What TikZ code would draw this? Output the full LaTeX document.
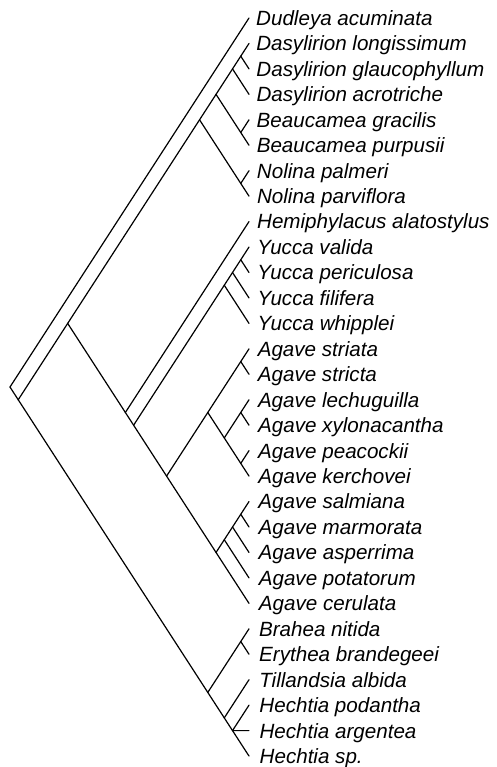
\documentclass[tikz,border=0pt]{standalone}
\usepackage{fontspec}
\setmainfont{Liberation Sans}
\newcommand\cladenode[3]{\coordinate (#1) at ({249-(#3-#2)*8.242},{18+12.725*(#2+#3)});}
\begin{document}
\begin{tikzpicture}[x=1pt,y=-1pt,
  branch/.style={line width=1.2pt,line cap=round},
  taxon/.style={anchor=base west,inner sep=0pt,font=\fontsize{20.6}{24}\selectfont\itshape}]
\useasboundingbox (0,0) rectangle (496,767);
% tips and labels
\foreach \i/\name in {0/Dudleya acuminata,1/Dasylirion longissimum,2/Dasylirion glaucophyllum,3/Dasylirion acrotriche,4/Beaucamea gracilis,5/Beaucamea purpusii,6/Nolina palmeri,7/Nolina parviflora,8/Hemiphylacus alatostylus,9/Yucca valida,10/Yucca periculosa,11/Yucca filifera,12/Yucca whipplei,13/Agave striata,14/Agave stricta,15/Agave lechuguilla,16/Agave xylonacantha,17/Agave peacockii,18/Agave kerchovei,19/Agave salmiana,20/Agave marmorata,21/Agave asperrima,22/Agave potatorum,23/Agave cerulata,24/Brahea nitida,25/Erythea brandegeei,26/Tillandsia albida,27/Hechtia podantha,28/Hechtia argentea,29/Hechtia sp.}{
  \coordinate (t\i) at (249,{18+25.45*\i});
  \node[taxon] (L\i) at ({256+0.12*\i},{25.4+25.45*\i}) {\name};
}
% internal nodes
\cladenode{root}{0}{29}
\cladenode{A}{1}{29}
\cladenode{B}{1}{23}
\cladenode{F}{1}{7}
\cladenode{G}{1}{5}
\cladenode{H}{1}{3}
\cladenode{P12}{1}{2}
\cladenode{P45}{4}{5}
\cladenode{P67}{6}{7}
\cladenode{I}{8}{23}
\cladenode{J}{9}{23}
\cladenode{K}{9}{12}
\cladenode{K3}{9}{11}
\cladenode{K2}{9}{10}
\cladenode{Lc}{13}{23}
\cladenode{M}{13}{18}
\cladenode{P1314}{13}{14}
\cladenode{N}{15}{18}
\cladenode{P1516}{15}{16}
\cladenode{P1718}{17}{18}
\cladenode{O}{19}{23}
\cladenode{O4}{19}{22}
\cladenode{O3}{19}{21}
\cladenode{O2}{19}{20}
\cladenode{C}{24}{29}
\cladenode{P2425}{24}{25}
\cladenode{D}{26}{29}
\cladenode{E}{27}{29}
% branches
\foreach \p/\c in {root/t0,root/A,A/B,A/C,B/F,B/I,F/G,F/P67,G/H,G/P45,H/P12,H/t3,P12/t1,P12/t2,P45/t4,P45/t5,P67/t6,P67/t7,
  I/t8,I/J,J/K,J/Lc,K/K3,K/t12,K3/K2,K3/t11,K2/t9,K2/t10,
  Lc/M,Lc/O,M/P1314,M/N,P1314/t13,P1314/t14,N/P1516,N/P1718,P1516/t15,P1516/t16,P1718/t17,P1718/t18,
  O/O4,O/t23,O4/O3,O4/t22,O3/O2,O3/t21,O2/t19,O2/t20,
  C/P2425,C/D,P2425/t24,P2425/t25,D/t26,D/E,E/t27,E/t28,E/t29}
  \draw[branch] (\p) -- (\c);
\end{tikzpicture}
\end{document}
